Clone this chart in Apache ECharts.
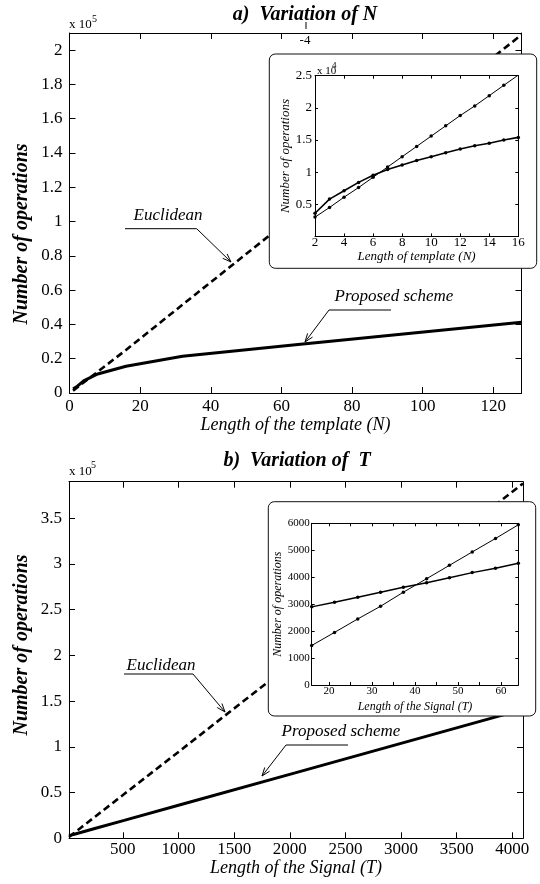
<!DOCTYPE html>
<html>
<head>
<meta charset="utf-8">
<script src="https://cdn.jsdelivr.net/npm/echarts@6/dist/echarts.min.js"></script>
<style>
  html, body { margin: 0; padding: 0; background: #fff; }
  #main { width: 540px; height: 884px; }
</style>
</head>
<body>
<div id="main"></div>
<script>
// ---- a) Variation of N : main plot (values x 1e5) ----
var nMain = [1, 2, 4, 8, 16, 32, 64, 128];
var nEuclid = [0.014, 0.030, 0.061, 0.124, 0.251, 0.515, 1.04, 2.09];
var nProposed = [0.025, 0.036, 0.071, 0.111, 0.156, 0.214, 0.281, 0.413];
var nXTicks = [0, 20, 40, 60, 80, 100, 120];
var nYTicks = [0, 0.2, 0.4, 0.6, 0.8, 1, 1.2, 1.4, 1.6, 1.8, 2];

// ---- a) inset (values x 1e4) ----
var nInset = [2, 3, 4, 5, 6, 7, 8, 9, 10, 11, 12, 13, 14, 15, 16];
var nInsetEuclid = [0.30, 0.45, 0.61, 0.76, 0.92, 1.08, 1.24, 1.40, 1.56, 1.72, 1.88, 2.03, 2.19, 2.35, 2.51];
var nInsetProposed = [0.36, 0.58, 0.71, 0.84, 0.95, 1.04, 1.11, 1.18, 1.24, 1.30, 1.36, 1.41, 1.45, 1.50, 1.54];
var nInsetXTicks = [2, 4, 6, 8, 10, 12, 14, 16];
var nInsetYTicks = [0.5, 1, 1.5, 2, 2.5];

// ---- b) Variation of T : main plot (values x 1e5) ----
var tMain = [16, 32, 64, 128, 256, 512, 1024, 2048, 4096];
var tEuclid = [0.015, 0.030, 0.060, 0.121, 0.242, 0.484, 0.968, 1.94, 3.88];
var tProposed = [0.029, 0.034, 0.045, 0.066, 0.11, 0.196, 0.37, 0.715, 1.41];
var tXTicks = [500, 1000, 1500, 2000, 2500, 3000, 3500, 4000];
var tYTicks = [0, 0.5, 1, 1.5, 2, 2.5, 3, 3.5];

// ---- b) inset ----
var tInset = [16, 21.3, 26.7, 32, 37.3, 42.7, 48, 53.3, 58.7, 64];
var tInsetEuclid = [1466, 1951, 2451, 2922, 3444, 3944, 4440, 4937, 5436, 5944];
var tInsetProposed = [2899, 3071, 3258, 3444, 3631, 3795, 3982, 4170, 4331, 4518];
var tInsetXTicks = [20, 25, 30, 35, 40, 45, 50, 55, 60];
var tInsetXLabels = [20, 30, 40, 50, 60];
var tInsetYTicks = [0, 1000, 2000, 3000, 4000, 5000, 6000];

var SERIF = '"Liberation Serif", "DejaVu Serif", serif';

function zip(xs, ys) {
  return xs.map(function (x, i) { return [x, ys[i]]; });
}

// four sided box of axes, ticks inside, like matlab
function boxAxes(g, o) {
  var line = { show: true, onZero: false, lineStyle: { color: '#000', width: 1 } };
  function tick(vals) {
    return { show: true, inside: true, length: o.tickLen, customValues: vals, lineStyle: { color: '#000' } };
  }
  var fmt = function (v) { return String(v); };
  var nameStyle = { fontFamily: SERIF, fontStyle: 'italic', fontSize: o.nameFs, color: '#000' };
  var xs = [{
    type: 'value', gridIndex: g, position: 'bottom', min: o.xmin, max: o.xmax, z: o.z,
    axisLine: line, axisTick: tick(o.xTicks), splitLine: { show: false },
    axisLabel: { customValues: o.xLabels || o.xTicks, formatter: fmt, fontFamily: SERIF, fontSize: o.fs, color: '#000', margin: o.xMargin },
    name: o.xName, nameLocation: 'middle', nameGap: o.xNameGap, nameTextStyle: nameStyle
  }, {
    type: 'value', gridIndex: g, position: 'top', min: o.xmin, max: o.xmax, z: o.z,
    axisLine: line, axisTick: tick(o.xTicks), axisLabel: { show: false }, splitLine: { show: false }
  }];
  var ys = [{
    type: 'value', gridIndex: g, position: 'left', min: o.ymin, max: o.ymax, z: o.z,
    axisLine: line, axisTick: tick(o.yTicks), splitLine: { show: false },
    axisLabel: { customValues: o.yTicks, formatter: fmt, fontFamily: SERIF, fontSize: o.fs, color: '#000', margin: o.yMargin },
    name: o.yName, nameLocation: 'middle', nameGap: o.yNameGap, nameRotate: 90, nameTextStyle: nameStyle
  }, {
    type: 'value', gridIndex: g, position: 'right', min: o.ymin, max: o.ymax, z: o.z,
    axisLine: line, axisTick: tick(o.yTicks), axisLabel: { show: false }, splitLine: { show: false }
  }];
  return { x: xs, y: ys };
}

var axA = boxAxes(0, { xmin: 0, xmax: 128, ymin: 0, ymax: 2.1, xTicks: nXTicks, yTicks: nYTicks,
  tickLen: 6, fs: 17, xMargin: 5, yMargin: 7, z: 0, nameFs: 18,
  xName: 'Length of the template (N)', xNameGap: 20 });
var axAin = boxAxes(1, { xmin: 2, xmax: 16, ymin: 0, ymax: 2.5, xTicks: nInsetXTicks, yTicks: nInsetYTicks,
  tickLen: 3, fs: 13, xMargin: 0, yMargin: 3, z: 20, nameFs: 13,
  xName: 'Length of template (N)', xNameGap: 14, yName: 'Number of operations', yNameGap: 22 });
var axB = boxAxes(2, { xmin: 16, xmax: 4096, ymin: 0, ymax: 3.9, xTicks: tXTicks, yTicks: tYTicks,
  tickLen: 6, fs: 17, xMargin: 3, yMargin: 7, z: 0, nameFs: 18,
  xName: 'Length of the Signal (T)', xNameGap: 20 });
var axBin = boxAxes(3, { xmin: 16, xmax: 64, ymin: 0, ymax: 6000, xTicks: tInsetXTicks, xLabels: tInsetXLabels,
  yTicks: tInsetYTicks, tickLen: 3, fs: 11, xMargin: 1, yMargin: 2, z: 20, nameFs: 12,
  xName: 'Length of the Signal (T)', xNameGap: 16, yName: 'Number of operations', yNameGap: 27 });

function mainLine(xi, yi, data, dashed) {
  return {
    type: 'line', xAxisIndex: xi, yAxisIndex: yi, data: data, showSymbol: false, z: 2,
    lineStyle: { color: '#000', width: dashed ? 2.6 : 3, type: dashed ? [7, 4] : 'solid' }
  };
}
function insetLine(xi, yi, data, w) {
  return {
    type: 'line', xAxisIndex: xi, yAxisIndex: yi, data: data, z: 21,
    symbol: 'circle', symbolSize: 3.5, itemStyle: { color: '#000' },
    lineStyle: { color: '#000', width: w }
  };
}

// arrows / text annotations
function leader(points) {
  var n = points.length, tip = points[n - 1], prev = points[n - 2];
  var ang = Math.atan2(tip[1] - prev[1], tip[0] - prev[0]);
  var len = 9, spread = 0.35;
  var head = [
    [tip[0] - len * Math.cos(ang - spread), tip[1] - len * Math.sin(ang - spread)],
    tip,
    [tip[0] - len * Math.cos(ang + spread), tip[1] - len * Math.sin(ang + spread)]
  ];
  return [
    { type: 'polyline', z: 5, shape: { points: points }, style: { stroke: '#000', lineWidth: 1, fill: null } },
    { type: 'polyline', z: 5, shape: { points: head }, style: { stroke: '#000', lineWidth: 1, fill: null } }
  ];
}
function txt(s, x, y, font, opts) {
  opts = opts || {};
  return {
    type: 'text', x: x, y: y, z: opts.z || 5, rotation: opts.rotation || 0,
    style: { text: s, font: font, fill: '#000', textAlign: opts.align || 'center', textVerticalAlign: 'middle' }
  };
}

var bi20 = 'italic bold 20px ' + SERIF;
var i17 = 'italic 17px ' + SERIF;

var graphics = [
  // inset frames
  { type: 'rect', z: 10, shape: { x: 269.3, y: 54, width: 267.4, height: 214.3, r: 6 },
    style: { fill: '#fff', stroke: '#111', lineWidth: 1 } },
  { type: 'rect', z: 10, shape: { x: 268.3, y: 501.7, width: 267.4, height: 214.3, r: 6 },
    style: { fill: '#fff', stroke: '#111', lineWidth: 1 } },
  // titles
  txt('a)  Variation of N', 305, 15, bi20),
  txt('b)  Variation of  T', 297, 461, bi20),
  // y names
  txt('Number of operations', 22, 234, bi20, { rotation: Math.PI / 2 }),
  txt('Number of operations', 22, 645, bi20, { rotation: Math.PI / 2 }),
  // exponents
  txt('x 10', 69, 25, '13px ' + SERIF, { align: 'left' }),
  txt('5', 92, 19, '10px ' + SERIF, { align: 'left' }),
  txt('x 10', 69, 471.5, '13px ' + SERIF, { align: 'left' }),
  txt('5', 91, 465.5, '10px ' + SERIF, { align: 'left' }),
  txt('x 10', 317, 71, '11px ' + SERIF, { align: 'left', z: 25 }),
  txt('4', 332, 66, '9px ' + SERIF, { align: 'left', z: 25 }),
  txt('-4', 305, 41, '13px ' + SERIF),
  { type: 'line', z: 5, shape: { x1: 306, y1: 22, x2: 306, y2: 29 }, style: { stroke: '#000', lineWidth: 1 } },
  // callouts
  txt('Euclidean', 168, 216, i17),
  txt('Proposed scheme', 394, 297, i17),
  txt('Euclidean', 161, 666, i17),
  txt('Proposed scheme', 341, 732, i17)
]
  .concat(leader([[125, 228.7], [196.7, 228.7], [231, 262]]))
  .concat(leader([[391, 310], [329, 310], [305, 342]]))
  .concat(leader([[124, 674], [193, 674], [225, 712]]))
  .concat(leader([[348, 745], [286, 745], [262, 776]]));

var option = {
  animation: false,
  backgroundColor: '#fff',
  grid: [
    { left: 69.5, top: 33, width: 452, height: 360 },
    { left: 315, top: 75.7, width: 203.3, height: 160.7 },
    { left: 69, top: 481.7, width: 454, height: 356.6 },
    { left: 311.7, top: 523.3, width: 206.6, height: 161.7 }
  ],
  xAxis: [].concat(axA.x, axAin.x, axB.x, axBin.x),
  yAxis: [].concat(axA.y, axAin.y, axB.y, axBin.y),
  series: [
    mainLine(0, 0, zip(nMain, nEuclid), true),
    mainLine(0, 0, zip(nMain, nProposed), false),
    insetLine(2, 2, zip(nInset, nInsetEuclid), 1),
    insetLine(2, 2, zip(nInset, nInsetProposed), 1.6),
    mainLine(4, 4, zip(tMain, tEuclid), true),
    mainLine(4, 4, zip(tMain, tProposed), false),
    insetLine(6, 6, zip(tInset, tInsetEuclid), 1),
    insetLine(6, 6, zip(tInset, tInsetProposed), 1.5)
  ],
  graphic: graphics
};

var chart = echarts.init(document.getElementById('main'));
chart.setOption(option);
</script>
</body>
</html>
